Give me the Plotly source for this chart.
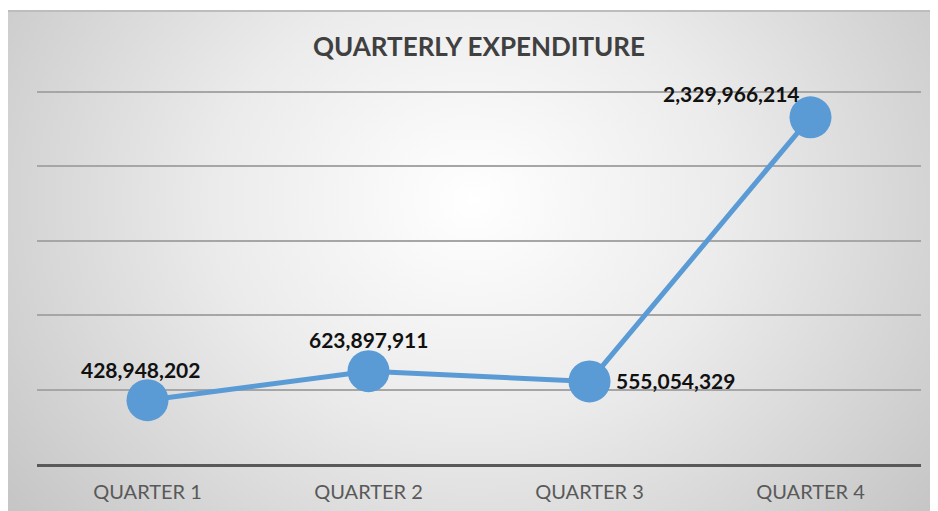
import base64
import plotly.graph_objects as go

quarters = ["QUARTER 1", "QUARTER 2", "QUARTER 3", "QUARTER 4"]
expenditure = [428948202, 623897911, 555054329, 2329966214]
label_text = ["428,948,202", "623,897,911", "555,054,329", "2,329,966,214"]
title_text = "QUARTERLY EXPENDITURE"

OFF = 8  # page body margin
W, H = 938 - OFF, 511 - OFF
ML, MR, MT, MB = 37 - OFF, 17, 89 - OFF, 47
pw, ph = W - ML - MR, H - MT - MB
GRID_TOP = 2.5e9
YMAX = GRID_TOP * ph / (ph - 3)

svg = (
    '<svg xmlns="http://www.w3.org/2000/svg" width="931" height="501" viewBox="0 0 931 501" preserveAspectRatio="none">'
    '<defs><radialGradient id="g" cx="0.5" cy="0.38" r="0.62" gradientTransform="translate(0.5 0.38) scale(1 1.6) translate(-0.5 -0.38)">'
    '<stop offset="0" stop-color="#ffffff"/><stop offset="0.45" stop-color="#ebebeb"/>'
    '<stop offset="1" stop-color="#c6c6c6"/></radialGradient></defs>'
    '<rect width="931" height="501" fill="url(#g)"/>'
    '<rect width="931" height="2" fill="#bdbdbd"/></svg>'
)
src = "data:image/svg+xml;base64," + base64.b64encode(svg.encode()).decode()


def px_x(p):
    return (p - ML) / pw


def px_y(p):
    return (H - MB - p) / ph


fig = go.Figure()
fig.add_trace(go.Scatter(
    x=quarters, y=expenditure, mode="lines+markers",
    line=dict(color="#5B9BD5", width=5),
    marker=dict(size=42, color="#5B9BD5"),
    hoverinfo="skip", showlegend=False,
))

label_pos = [("center", -7, 31), ("center", 0, 32), ("left", 24, 1), ("right", -9, 24)]
for q, v, t, (xa, xs, ys) in zip(quarters, expenditure, label_text, label_pos):
    fig.add_annotation(x=q, y=v, text="<b>" + t + "</b>", showarrow=False,
                       xanchor=xa, yanchor="middle", xshift=xs, yshift=ys,
                       font=dict(family="Lato", size=21, color="#111111"))

fig.add_layout_image(dict(
    source=src, xref="paper", yref="paper",
    x=px_x(-1), y=px_y(2), sizex=(W + 1) / pw, sizey=(H - 2) / ph,
    xanchor="left", yanchor="top", sizing="stretch", layer="below",
))

fig.update_layout(
    width=W, height=H,
    margin=dict(l=ML, r=MR, t=MT, b=MB, autoexpand=False),
    paper_bgcolor="white", plot_bgcolor="rgba(0,0,0,0)",
    title=dict(text="<b>" + title_text + "</b>", x=(479 - OFF) / W, xanchor="center",
               xref="container", y=1 - (47 - OFF) / H, yanchor="middle", yref="container",
               font=dict(family="Lato", size=26, color="#404040")),
    xaxis=dict(range=[-0.5, 3.5], showgrid=False, showline=True,
               linecolor="#595959", linewidth=3, ticks="", automargin=False,
               tickfont=dict(family="Lato", size=20, color="#595959"),
               ticklabelstandoff=8),
    yaxis=dict(range=[0, YMAX], tick0=0, dtick=5e8, showgrid=True, gridcolor="#a6a6a6",
               gridwidth=1.5, zeroline=False, showticklabels=False, ticks="",
               automargin=False),
)

fig.write_html("out.html")
